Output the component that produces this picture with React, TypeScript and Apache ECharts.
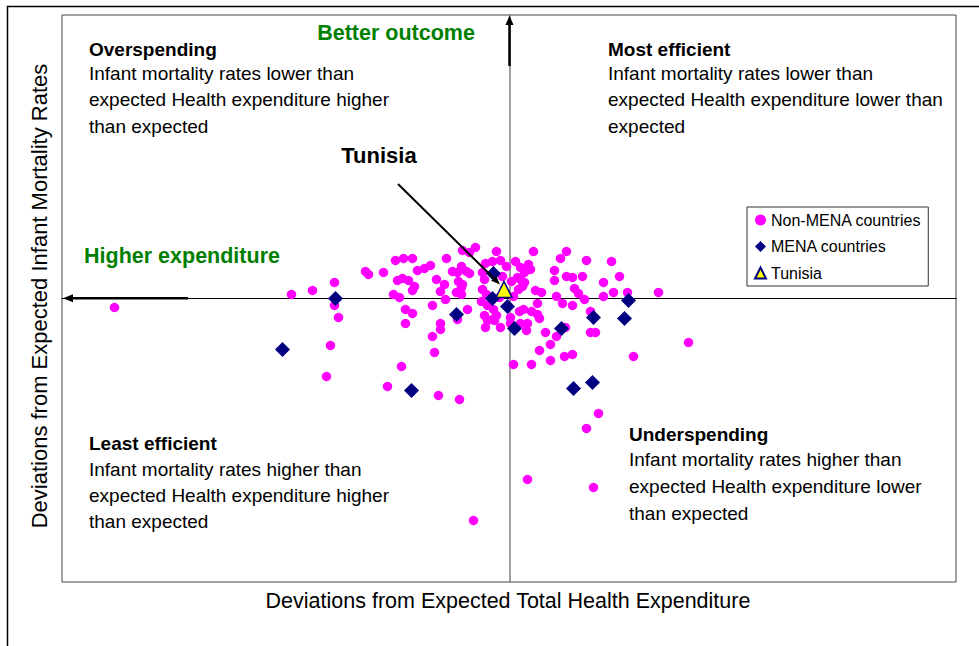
import React, { useEffect, useRef } from "react";
import * as echarts from "echarts";

// Deviations from expected total health expenditure (x) and from expected infant mortality rates (y)
const nonMenaCountries: [number, number][] = [
  [-3.95, -0.09], [-2.18, 0.04], [-1.97, 0.08], [-1.75, 0.16], [-1.75, -0.07], [-1.71, -0.19],
  [-1.79, -0.47], [-1.83, -0.78], [-1.44, 0.27], [-1.41, 0.24], [-1.26, 0.26], [-1.14, 0.38],
  [-1.06, 0.4], [-0.97, 0.4], [-0.92, 0.28], [-1.12, 0.18], [-1.07, 0.2], [-1.01, 0.18],
  [-0.95, 0.12], [-0.97, 0.08], [-1.16, 0.04], [-1.1, 0.01], [-1.04, -0.11], [-0.97, -0.15],
  [-1.04, -0.25], [-1.08, -0.68], [-1.22, -0.88], [-0.85, 0.3], [-0.79, 0.33], [-0.73, 0.19],
  [-0.63, 0.4], [-0.65, 0.14], [-0.69, 0.07], [-0.64, -0.01], [-0.77, -0.07], [-0.52, -0.21],
  [-0.42, -0.11], [-0.69, -0.25], [-0.69, -0.31], [-0.77, -0.38], [-0.75, -0.54], [-0.71, -0.97],
  [-0.5, -1.01], [-0.47, 0.48], [-0.34, 0.51], [-0.4, 0.46], [-0.57, 0.27], [-0.48, 0.32],
  [-0.52, 0.26], [-0.43, 0.27], [-0.4, 0.25], [-0.51, 0.17], [-0.47, 0.14], [-0.48, 0.11],
  [-0.53, 0.06], [-0.48, 0.04], [-0.24, 0.35], [-0.27, 0.26], [-0.25, 0.19], [-0.27, 0.09],
  [-0.23, 0.04], [-0.28, -0.03], [-0.22, -0.07], [-0.16, -0.11], [-0.25, -0.17], [-0.22, -0.22],
  [-0.17, -0.21], [-0.24, -0.29], [-0.09, -0.29], [-0.13, 0.47], [-0.09, 0.38], [-0.17, 0.37],
  [-0.03, 0.32], [0.06, 0.37], [-0.07, 0.22], [0.02, 0.17], [-0.1, 0.01], [0.04, 0.02],
  [0.09, 0.09], [0.13, 0.12], [0.08, 0.21], [0.11, 0.19], [0.11, 0.31], [0.15, 0.26],
  [0.19, 0.34], [0.21, 0.29], [0.24, 0.47], [0.15, 0.16], [-0.13, -0.17], [-0.15, -0.22],
  [0.01, -0.19], [0.01, -0.25], [0.1, -0.13], [0.14, -0.11], [0.11, -0.25], [0.18, -0.25],
  [0.22, -0.13], [0.28, -0.16], [0.3, -0.2], [0.28, -0.05], [0.26, 0.08], [0.32, 0.06],
  [0.17, -0.32], [0.36, -0.34], [0.47, -0.38], [0.41, -0.46], [0.41, -0.62], [0.3, -0.52],
  [0.04, -0.66], [0.22, -0.66], [0.55, -0.58], [0.63, -0.56], [0.45, 0.28], [0.45, 0.18],
  [0.47, 0.02], [0.53, -0.05], [0.51, 0.4], [0.57, 0.47], [0.57, 0.22], [0.63, 0.21],
  [0.65, 0.1], [0.69, 0.05], [0.75, -0.01], [0.63, -0.07], [0.73, 0.22], [0.77, 0.38],
  [0.81, -0.13], [0.81, -0.34], [0.86, -0.34], [0.89, -1.15], [0.77, -1.3], [0.94, 0.16],
  [0.94, 0.02], [1.02, 0.37], [1.1, 0.22], [1.04, 0.06], [1.18, 0.06], [1.24, -0.58],
  [1.49, 0.06], [1.79, -0.44], [0.56, -0.29], [0.18, -1.81], [0.84, -1.89], [-0.36, -2.22],
];

const menaCountries: [number, number][] = [
  [-2.27, -0.51], [-1.74, 0.0], [-0.98, -0.92], [-0.53, -0.16], [-0.16, 0.25], [-0.17, 0.0],
  [-0.02, -0.08], [0.05, -0.3], [0.52, -0.3], [0.84, -0.19], [1.15, -0.2], [1.19, -0.02],
  [0.64, -0.9], [0.83, -0.84],
];

const tunisiaPoint: [number, number][] = [[-0.055, 0.09]];

const seriesNames = ["Non-MENA countries", "MENA countries", "Tunisia"];

const xAxisTitle = "Deviations from Expected Total Health Expenditure";
const yAxisTitle = "Deviations from Expected Infant Mortality Rates";

const quadrantOverspending = ["Overspending", "Infant mortality rates lower than", "expected Health expenditure higher", "than expected"];
const quadrantMostEfficient = ["Most efficient", "Infant mortality rates lower than", "expected Health expenditure lower than", "expected"];
const quadrantLeastEfficient = ["Least efficient", "Infant mortality rates higher than", "expected Health expenditure higher", "than expected"];
const quadrantUnderspending = ["Underspending", "Infant mortality rates higher than", "expected Health expenditure lower", "than expected"];

const FONT = '"Liberation Sans", Arial, Helvetica, sans-serif';

function txt(
  text: string,
  x: number,
  y: number,
  size: number,
  opts: { bold?: boolean; fill?: string; align?: string; rotation?: number } = {}
) {
  return {
    type: "text",
    x,
    y,
    rotation: opts.rotation || 0,
    z: 100,
    style: {
      text,
      font: `${opts.bold ? "bold " : ""}${size}px ${FONT}`,
      fill: opts.fill || "#000",
      textAlign: opts.align || "left",
      textVerticalAlign: "middle",
    },
  };
}

function quadrant(lines: string[], x: number, ys: number[]) {
  return lines.map((l, i) => txt(l, x, ys[i], 19, { bold: i === 0 }));
}

export default function App() {
  const ref = useRef<HTMLDivElement>(null);

  useEffect(() => {
    document.body.style.margin = "0";
    if (!ref.current) return;
    const chart = echarts.init(ref.current, undefined, { renderer: "svg" });

    const graphic: any[] = [
      {
        type: "rect",
        z: 50,
        shape: { x: 7.5, y: 6.5, width: 1100, height: 800 },
        style: { fill: "none", stroke: "#000", lineWidth: 1.5 },
      },
      ...quadrant(quadrantOverspending, 89, [49.5, 73, 99.5, 126]),
      ...quadrant(quadrantMostEfficient, 608, [49.5, 73, 99.5, 126]),
      ...quadrant(quadrantLeastEfficient, 89, [443.5, 469, 495, 521.5]),
      ...quadrant(quadrantUnderspending, 629, [434, 459.5, 486, 513]),
      txt("Better outcome", 396, 33, 21.5, { bold: true, fill: "#008000", align: "center" }),
      txt("Higher expenditure", 182, 255.5, 21.5, { bold: true, fill: "#008000", align: "center" }),
      txt("Tunisia", 379, 155, 22, { bold: true, align: "center" }),
      txt(xAxisTitle, 508, 600.5, 21.5, { align: "center" }),
      txt(yAxisTitle, 39, 296, 22, { align: "center", rotation: Math.PI / 2 }),
      // Better outcome arrow
      { type: "line", z: 90, shape: { x1: 509.5, y1: 66, x2: 509.5, y2: 23 }, style: { stroke: "#000", lineWidth: 2.5 } },
      { type: "polygon", z: 90, shape: { points: [[509.5, 15.5], [505.5, 25], [513.5, 25]] }, style: { fill: "#000" } },
      // Higher expenditure arrow
      { type: "line", z: 90, shape: { x1: 188, y1: 298.3, x2: 71, y2: 298.3 }, style: { stroke: "#000", lineWidth: 2.5 } },
      { type: "polygon", z: 90, shape: { points: [[63, 298.3], [73, 294.3], [73, 302.3]] }, style: { fill: "#000" } },
      // Tunisia arrow
      { type: "line", z: 90, shape: { x1: 398, y1: 184, x2: 494, y2: 278.5 }, style: { stroke: "#000", lineWidth: 2 } },
      { type: "polygon", z: 90, shape: { points: [[500, 284.5], [491.2, 280.7], [496.1, 275.7]] }, style: { fill: "#000" } },
    ];

    chart.setOption({
      animation: false,
      backgroundColor: "#fff",
      textStyle: { fontFamily: FONT },
      grid: {
        left: 62,
        top: 15,
        right: 23,
        bottom: 64,
        show: true,
        borderColor: "#444",
        borderWidth: 1,
        backgroundColor: "#fff",
      },
      xAxis: {
        type: "value",
        min: -4.475,
        max: 4.465,
        axisLine: { show: true, onZero: true, lineStyle: { color: "#000", width: 1 } },
        axisTick: { show: false },
        axisLabel: { show: false },
        splitLine: { show: false },
      },
      yAxis: {
        type: "value",
        min: -2.835,
        max: 2.835,
        axisLine: { show: true, onZero: true, lineStyle: { color: "#808080", width: 1.5 } },
        axisTick: { show: false },
        axisLabel: { show: false },
        splitLine: { show: false },
      },
      legend: {
        orient: "vertical",
        left: 747,
        top: 207,
        padding: [5, 7, 5, 7],
        itemGap: 10.5,
        itemWidth: 11,
        itemHeight: 11,
        borderColor: "#333",
        borderWidth: 1,
        backgroundColor: "#fff",
        textStyle: { fontSize: 16, color: "#000", fontFamily: FONT },
        data: [
          { name: seriesNames[0], icon: "circle" },
          { name: seriesNames[1], icon: "diamond" },
          { name: seriesNames[2], icon: "triangle" },
        ],
      },
      graphic,
      series: [
        {
          name: seriesNames[0],
          type: "scatter",
          symbol: "circle",
          symbolSize: 9.5,
          itemStyle: { color: "#FF00FF", opacity: 1 },
          data: nonMenaCountries,
          z: 3,
        },
        {
          name: seriesNames[1],
          type: "scatter",
          symbol: "diamond",
          symbolSize: 15,
          itemStyle: { color: "#000080", opacity: 1 },
          data: menaCountries,
          z: 4,
        },
        {
          name: seriesNames[2],
          type: "scatter",
          symbol: "triangle",
          symbolSize: 16,
          itemStyle: { color: "#FFFF00", borderColor: "#000080", borderWidth: 1.5, opacity: 1 },
          data: tunisiaPoint,
          z: 5,
        },
      ],
    });

    return () => chart.dispose();
  }, []);

  return (
    <div
      ref={ref}
      style={{ position: "fixed", left: 0, top: 0, width: 979, height: 646 }}
    />
  );
}
